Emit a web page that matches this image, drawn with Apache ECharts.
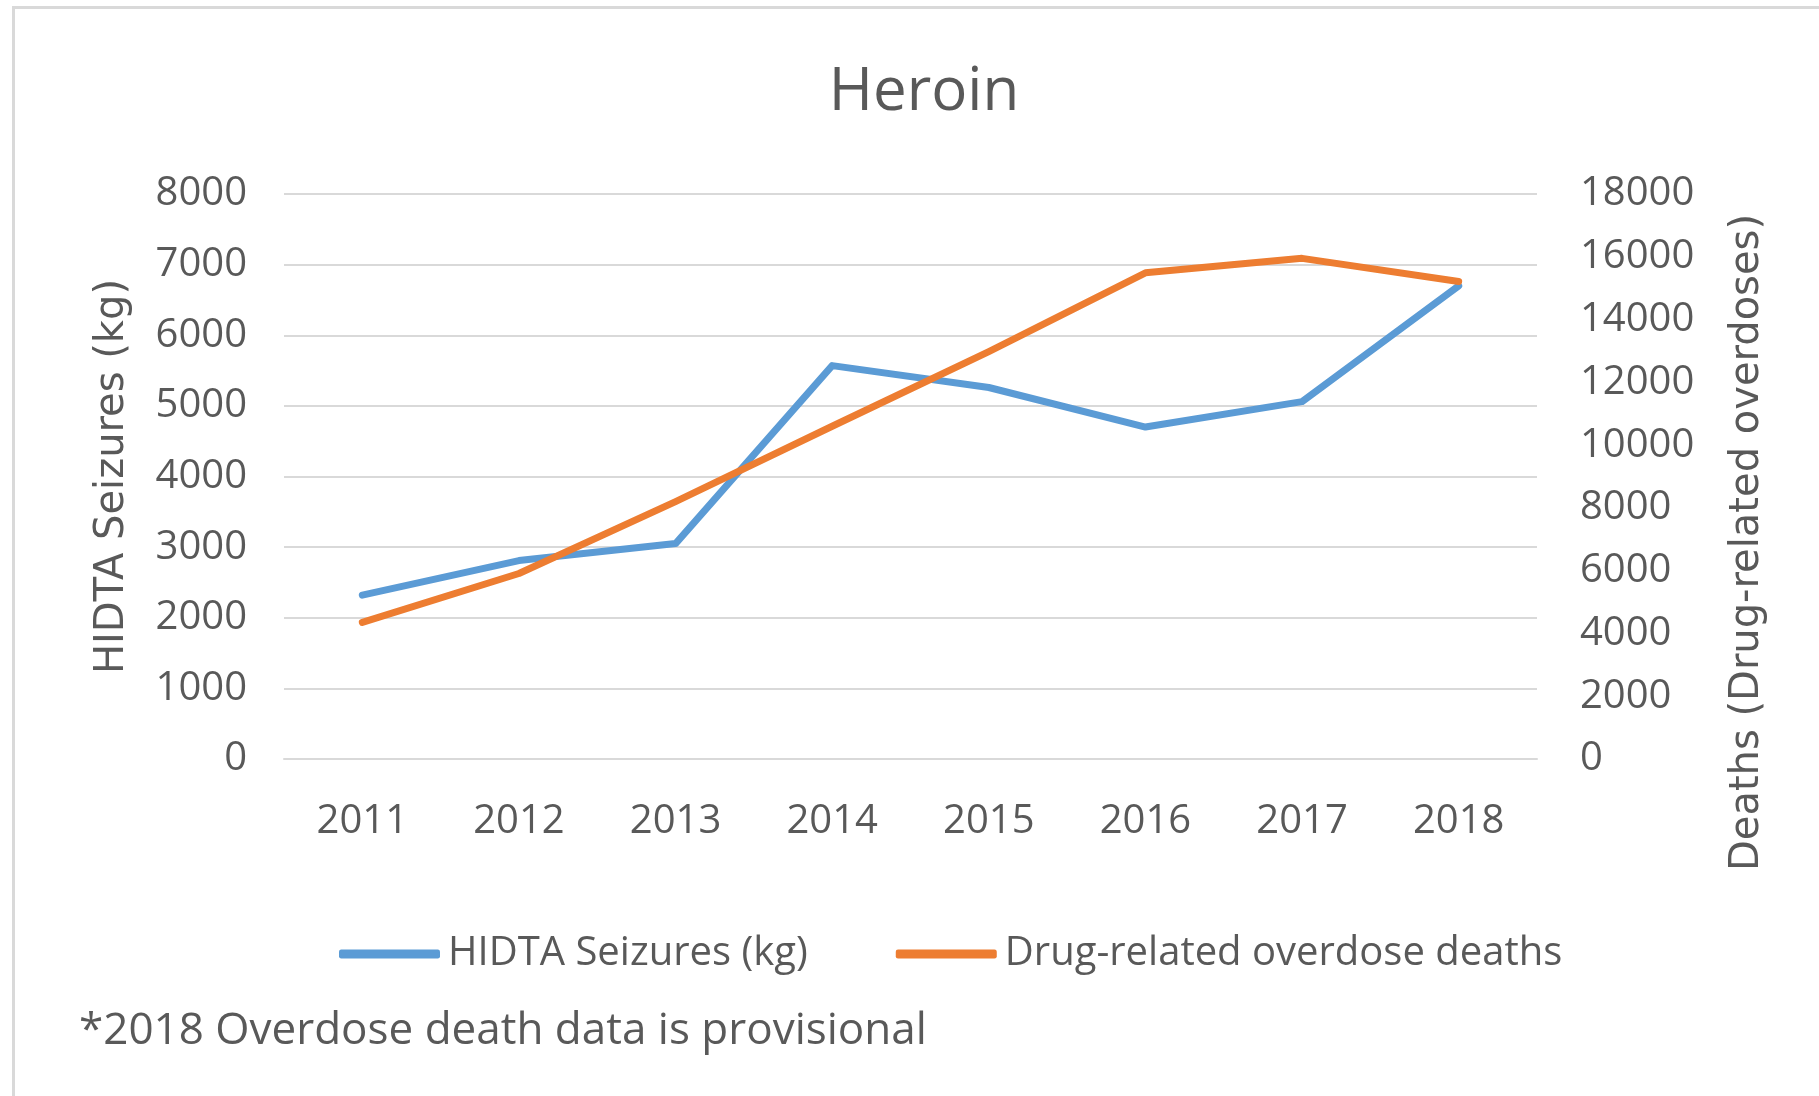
<!DOCTYPE html>
<html>
<head>
<meta charset="utf-8">
<script src="https://cdn.jsdelivr.net/npm/echarts@6/dist/echarts.min.js"></script>
<style>
html,body{margin:0;padding:0;background:#fff;}
#chart{width:1819px;height:1096px;}
</style>
</head>
<body>
<div id="chart"></div>
<script>
const categories = ['2011','2012','2013','2014','2015','2016','2017','2018'];
const seizuresKg = [2320, 2810, 3050, 5570, 5260, 4700, 5060, 6700];
const overdoseDeaths = [4350, 5910, 8200, 10600, 12980, 15490, 15950, 15210];
const seriesNames = ['HIDTA Seizures (kg)', 'Drug-related overdose deaths'];
const leftAxisName = 'HIDTA Seizures (kg)';
const rightAxisName = 'Deaths (Drug-related overdoses)';
const titleText = 'Heroin';
const footnote = '*2018 Overdose death data is provisional';

const FONT = '"Open Sans", sans-serif';
const NAMEFONT = '"DejaVu Sans", sans-serif';
const TXT = '#595959';
const plain = v => String(v);

const chart = echarts.init(document.getElementById('chart'), null, {renderer:'canvas'});
chart.setOption({
  backgroundColor: '#ffffff',
  animation: false,
  title: {
    text: titleText,
    left: 919, top: 58, textAlign: 'center',
    textStyle: {fontFamily: FONT, fontSize: 60, fontWeight: 'normal', color: TXT}
  },
  grid: {left: 284, right: 282, top: 194, bottom: 337, containLabel: false},
  legend: {
    left: 334, top: 929,
    itemWidth: 101, itemHeight: 9, itemGap: 88,
    data: [
      {name: seriesNames[0], icon: 'roundRect', itemStyle: {color: '#5B9BD5'}},
      {name: seriesNames[1], icon: 'roundRect', itemStyle: {color: '#ED7D31'}}
    ],
    textStyle: {fontFamily: FONT, fontSize: 40, color: TXT, padding: [0,0,0,3]}
  },
  xAxis: {
    type: 'category', data: categories, boundaryGap: true,
    axisLine: {show: true, lineStyle: {color: '#D9D9D9', width: 2}},
    axisTick: {show: false},
    axisLabel: {fontFamily: FONT, fontSize: 40, color: TXT, margin: 43}
  },
  yAxis: [
    {
      type: 'value', min: 0, max: 8000, interval: 1000, position: 'left',
      name: leftAxisName, nameLocation: 'middle', nameRotate: 90, nameGap: 151,
      nameTextStyle: {fontFamily: NAMEFONT, fontSize: 40, color: TXT},
      axisLine: {show: false}, axisTick: {show: false},
      axisLabel: {fontFamily: FONT, fontSize: 40, color: TXT, margin: 37, formatter: plain},
      splitLine: {show: true, lineStyle: {color: '#D9D9D9', width: 2}}
    },
    {
      type: 'value', min: 0, max: 18000, interval: 2000, position: 'right',
      name: rightAxisName, nameLocation: 'middle', nameRotate: 90, nameGap: 191,
      nameTextStyle: {fontFamily: NAMEFONT, fontSize: 40, color: TXT, padding: [0, 132, 0, 0]},
      axisLine: {show: false}, axisTick: {show: false},
      axisLabel: {fontFamily: FONT, fontSize: 40, color: TXT, margin: 43, formatter: plain},
      splitLine: {show: false}
    }
  ],
  series: [
    {
      name: seriesNames[0], type: 'line', yAxisIndex: 0, data: seizuresKg,
      symbol: 'none', lineStyle: {color: '#5B9BD5', width: 7, cap: 'round', join: 'round'},
      itemStyle: {color: '#5B9BD5'}
    },
    {
      name: seriesNames[1], type: 'line', yAxisIndex: 1, data: overdoseDeaths,
      symbol: 'none', lineStyle: {color: '#ED7D31', width: 7, cap: 'round', join: 'round'},
      itemStyle: {color: '#ED7D31'}
    }
  ],
  graphic: [
    {
      type: 'rect', left: 11, top: 5, silent: true,
      shape: {width: 2000, height: 2000},
      style: {fill: 'none', stroke: '#D9D9D9', lineWidth: 3}
    },
    {
      type: 'text', left: 79, top: 1009, silent: true,
      style: {text: footnote, fontFamily: FONT, fontSize: 44, fill: TXT}
    }
  ]
});
</script>
</body>
</html>
